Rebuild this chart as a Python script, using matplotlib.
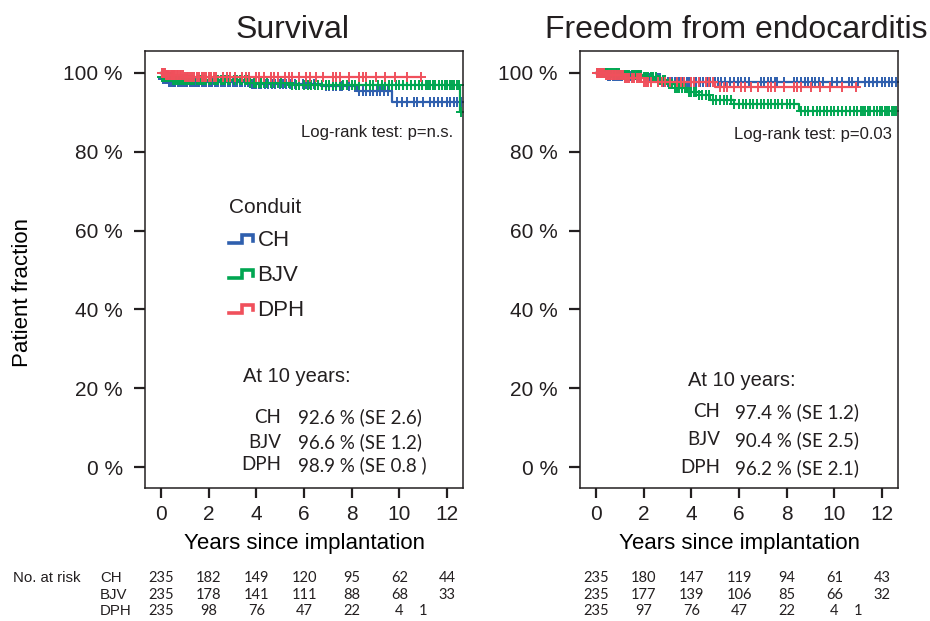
import numpy as np
import matplotlib
matplotlib.use("Agg")
import matplotlib.pyplot as plt
from matplotlib.lines import Line2D
from matplotlib.legend_handler import HandlerBase
from matplotlib import transforms

plt.rcParams['font.family'] = ['Liberation Sans', 'DejaVu Sans']
TXT = '#231f20'
plt.rcParams['text.color'] = TXT

groups = ['CH', 'BJV', 'DPH']
colors = {'CH': '#2f5fae', 'BJV': '#00a651', 'DPH': '#f0505c'}

# Kaplan-Meier steps: event times and level after each event
surv_times = {
    'CH': [0, 0.1, 0.3, 3.7, 6.7, 8.2, 9.7],
    'BJV': [0, 0.05, 0.5, 3.7, 5.5, 12.55],
    'DPH': [0, 0.2, 1.0],
}
surv_levels = {
    'CH': [1.0, 0.985, 0.978, 0.972, 0.966, 0.955, 0.926],
    'BJV': [1.0, 0.99, 0.982, 0.975, 0.968, 0.90],
    'DPH': [1.0, 0.995, 0.989],
}
endo_times = {
    'CH': [0, 0.5, 2.0, 2.8],
    'BJV': [0, 1.0, 2.0, 2.6, 3.0, 3.3, 3.8, 4.3, 4.8, 5.8, 8.5],
    'DPH': [0, 0.4, 1.2, 2.0, 5.0],
}
endo_levels = {
    'CH': [1.0, 0.993, 0.986, 0.977],
    'BJV': [1.0, 0.995, 0.99, 0.982, 0.972, 0.962, 0.952, 0.943, 0.932, 0.922, 0.904],
    'DPH': [1.0, 0.995, 0.988, 0.978, 0.964],
}
# censored follow-up times (same patients in both panels)
censor_times = {
    'CH': [0.05, 0.1, 0.15, 0.2, 0.28, 0.35, 0.42, 0.5, 0.55, 0.6, 0.7, 0.8, 0.88,
           0.95, 1.05, 1.1, 1.2, 1.3, 1.38, 1.45, 1.55, 1.6, 1.7, 1.8, 1.9, 2.0,
           2.1, 2.15, 2.25, 2.3, 2.4, 2.5, 2.6, 2.7, 2.8, 2.9, 3.0, 3.1, 3.2, 3.3,
           3.4, 3.5, 3.65, 3.8, 3.9, 4.0, 4.1, 4.2, 4.35, 4.5, 4.65, 4.8, 5.0,
           5.1, 5.25, 5.4, 5.6, 5.8, 5.95, 6.1, 6.25, 6.4, 6.9, 7.05, 7.2, 7.35,
           7.5, 7.6, 7.9, 8.3, 8.45, 8.6, 8.75, 8.9, 9.05, 9.2, 9.35, 9.5, 9.9,
           10.1, 10.3, 10.6, 10.75, 11.0, 11.3, 11.45, 11.6, 11.8, 12.0, 12.1,
           12.3, 12.4, 12.6],
    'BJV': [0.05, 0.1, 0.15, 0.22, 0.3, 0.38, 0.45, 0.52, 0.6, 0.68, 0.75, 0.82,
            0.9, 0.98, 1.05, 1.12, 1.2, 1.3, 1.4, 1.5, 1.6, 1.68, 1.75, 1.82, 1.9,
            2.0, 2.1, 2.2, 2.3, 2.4, 2.5, 2.6, 2.7, 2.8, 2.9, 3.05, 3.2, 3.3, 3.4,
            3.5, 3.6, 3.75, 3.9, 4.0, 4.1, 4.2, 4.3, 4.45, 4.6, 4.75, 4.9, 5.05,
            5.2, 5.35, 5.5, 5.65, 5.8, 6.0, 6.15, 6.3, 6.45, 6.6, 6.75, 6.9, 7.05,
            7.2, 7.35, 7.5, 7.65, 7.8, 8.0, 8.15, 8.3, 8.6, 8.75, 8.9, 9.1, 9.25,
            9.4, 9.55, 9.7, 9.85, 10.0, 10.15, 10.3, 10.5, 10.65, 10.8, 10.95,
            11.1, 11.2, 11.3, 11.4, 11.5, 11.65, 11.8, 11.9, 12.0, 12.1, 12.2,
            12.3, 12.4, 12.5, 12.6],
    'DPH': [0.03, 0.06, 0.1, 0.14, 0.18, 0.22, 0.26, 0.3, 0.35, 0.4, 0.45, 0.5,
            0.55, 0.6, 0.65, 0.7, 0.78, 0.85, 0.92, 1.0, 1.08, 1.15, 1.22, 1.3,
            1.4, 1.5, 1.6, 1.7, 1.8, 1.9, 2.0, 2.1, 2.2, 2.3, 2.6, 2.75, 2.9, 3.1,
            3.4, 3.55, 3.7, 4.0, 4.1, 4.3, 4.6, 4.75, 4.9, 5.2, 5.35, 5.5, 5.8,
            6.1, 6.25, 6.5, 6.8, 7.2, 7.35, 7.5, 7.9, 8.3, 8.45, 8.6, 9.0, 9.4,
            9.8, 10.3, 10.9],
}

at10_surv = ['92.6 % (SE 2.6)', '96.6 % (SE 1.2)', '98.9 % (SE 0.8 )']
at10_endo = ['97.4 % (SE 1.2)', '90.4 % (SE 2.5)', '96.2 % (SE 2.1)']

risk_years = [0, 2, 4, 6, 8, 10, 12]
risk_years_dph = [0, 2, 4, 6, 8, 10, 11]
risk_surv = {'CH': [235, 182, 149, 120, 95, 62, 44],
             'BJV': [235, 178, 141, 111, 88, 68, 33],
             'DPH': [235, 98, 76, 47, 22, 4, 1]}
risk_endo = {'CH': [235, 180, 147, 119, 94, 61, 43],
             'BJV': [235, 177, 139, 106, 85, 66, 32],
             'DPH': [235, 97, 76, 47, 22, 4, 1]}

yticks = [0, 0.2, 0.4, 0.6, 0.8, 1.0]
ytick_labels = ['0 %', '20 %', '40 %', '60 %', '80 %', '100 %']
xticks = [0, 2, 4, 6, 8, 10, 12]


class StepHandler(HandlerBase):
    def create_artists(self, legend, orig_handle, xdescent, ydescent,
                       width, height, fontsize, trans):
        xs = np.array([0.0, 0.55, 0.55, 1.0, 1.0]) * width - xdescent
        ys = np.array([0.2, 0.2, 0.7, 0.7, 0.35]) * height - ydescent
        ln = Line2D(xs, ys, color=orig_handle.get_color(), lw=2.6,
                    solid_joinstyle='miter')
        ln.set_transform(trans)
        return [ln]


def draw_km(ax, times, levels, censors, end):
    handles = []
    for g in groups:
        t = list(times[g]) + [end[g]]
        s = list(levels[g]) + [levels[g][-1]]
        ln, = ax.step(t, s, where='post', color=colors[g], lw=1.6)
        ct = np.array(censors[g])
        idx = np.searchsorted(times[g], ct, side='right') - 1
        cs = np.array(levels[g])[idx]
        ax.plot(ct, cs, ls='none', marker='+', ms=7, mew=1.4, color=colors[g])
        handles.append(ln)
    return handles


def style_axes(ax):
    ax.set_xlim(-0.67, 12.67)
    ax.set_ylim(-0.053, 1.056)
    ax.set_xticks(xticks)
    ax.set_yticks(yticks)
    ax.set_yticklabels(ytick_labels)
    for sp in ax.spines.values():
        sp.set_color(TXT)
        sp.set_linewidth(1.1)
    ax.tick_params(axis='both', direction='out', colors=TXT, labelsize=15,
                   width=1.6)
    ax.tick_params(axis='y', length=8, pad=8)
    ax.tick_params(axis='x', length=7, pad=5)
    ax.set_xlabel('Years since implantation', fontsize=16, labelpad=7)


fig = plt.figure(figsize=(9.3, 6.21), dpi=100)
ax1 = fig.add_axes([0.156, 0.2142, 0.342, 0.704])
ax2 = fig.add_axes([0.6237, 0.2142, 0.342, 0.704])

end_surv = {'CH': 12.67, 'BJV': 12.67, 'DPH': 10.9}
end_endo = {'CH': 12.67, 'BJV': 12.67, 'DPH': 10.9}

h = draw_km(ax1, surv_times, surv_levels, censor_times, end_surv)
draw_km(ax2, endo_times, endo_levels, censor_times, end_endo)

for ax in (ax1, ax2):
    style_axes(ax)

ax1.set_title('Survival', fontsize=23, pad=9, x=0.465)
ax2.set_title('Freedom from endocarditis', fontsize=23, pad=9, x=0.49)
ax1.set_ylabel('Patient fraction', fontsize=16)
ax1.yaxis.set_label_coords(-0.352, 0.446)

leg = ax1.legend(h, groups, handler_map={Line2D: StepHandler()},
                 title='Conduit', title_fontsize=15, fontsize=16,
                 frameon=False, loc='upper left', bbox_to_anchor=(0.2, 0.71),
                 handlelength=1.1, handletextpad=0.2, labelspacing=0.62,
                 alignment='left')
for t in leg.get_texts():
    t.set_color(TXT)

# annotations
ax1.text(0.969, 0.812, 'Log-rank test: p=n.s.', transform=ax1.transAxes,
         ha='right', va='center', fontsize=12)
ax2.text(0.981, 0.808, 'Log-rank test: p=0.03', transform=ax2.transAxes,
         ha='right', va='center', fontsize=12)

tbl_font = ['Lato', 'DejaVu Sans']
for ax, vals, hx, lx, vx, rows in (
        (ax1, at10_surv, 0.308, 0.428, 0.481, (0.254, 0.162, 0.105, 0.053)),
        (ax2, at10_endo, 0.34, 0.44, 0.487, (0.245, 0.174, 0.110, 0.046))):
    ax.text(hx, rows[0], 'At 10 years:', transform=ax.transAxes,
            ha='left', va='center', fontsize=14.5)
    for g, v, y in zip(groups, vals, rows[1:]):
        ax.text(lx, y, g, transform=ax.transAxes, ha='right', va='center',
                fontsize=13.5, family=tbl_font)
        ax.text(vx, y, v, transform=ax.transAxes, ha='left', va='center',
                fontsize=13.5, family=tbl_font)

# numbers at risk
row_y = [1 - 578 / 621, 1 - 595 / 621, 1 - 611 / 621]
fig.text(13 / 930, row_y[0], 'No. at risk', ha='left', va='center', fontsize=10.8)
for g, y in zip(groups, row_y):
    fig.text(100 / 930, y, g, ha='left', va='center', fontsize=10.8)
for ax, risk in ((ax1, risk_surv), (ax2, risk_endo)):
    tr = transforms.blended_transform_factory(ax.transData, fig.transFigure)
    for g, y in zip(groups, row_y):
        yrs = risk_years_dph if g == 'DPH' else risk_years
        for x, n in zip(yrs, risk[g]):
            ax.text(x, y, str(n), transform=tr, ha='center', va='center',
                    fontsize=10.5, family=tbl_font, clip_on=False)

fig.savefig('out.png', dpi=100)
